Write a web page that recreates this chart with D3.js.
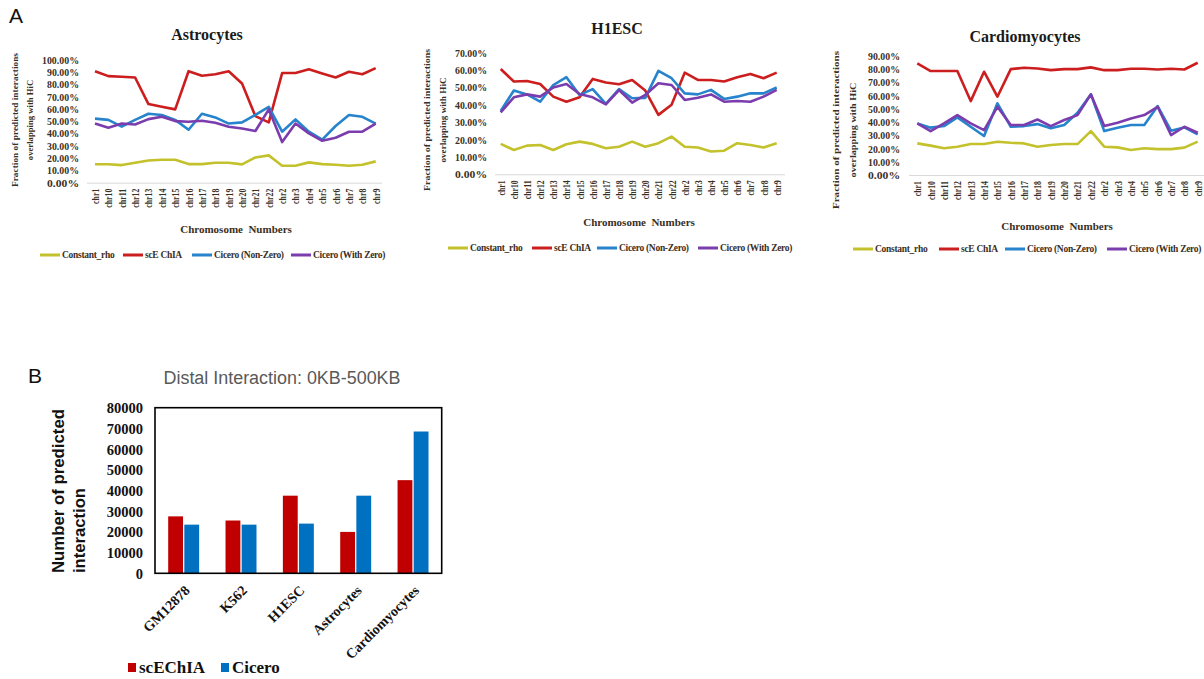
<!DOCTYPE html>
<html>
<head>
<meta charset="utf-8">
<script src="https://cdn.jsdelivr.net/npm/d3@7"></script>
<style>
  body { margin: 0; background: #ffffff; }
  svg { display: block; }
</style>
</head>
<body>
<svg id="fig" width="1204" height="679"></svg>
<script>
// ---------- data ----------
const chromosomes = ["chr1","chr10","chr11","chr12","chr13","chr14","chr15","chr16","chr17","chr18","chr19",
  "chr20","chr21","chr22","chr2","chr3","chr4","chr5","chr6","chr7","chr8","chr9"];
const lineSeriesNames = ["Constant_rho", "scE ChIA", "Cicero (Non-Zero)", "Cicero (With Zero)"];
const lineSeriesColors = ["#C3C12C", "#CC1E1E", "#2683CC", "#7B3DAE"];

// Astrocytes (% overlapping with HiC)
const astroRho      = [15.0,15.0,14.3,16.2,18.0,18.6,18.6,15.1,15.1,16.2,16.2,14.9,20.5,22.2,13.8,13.8,16.5,15.1,14.6,13.8,14.6,17.3];
const astroScEChIA  = [90.5,86.5,86.0,85.4,63.8,61.6,59.5,90.5,86.8,88.0,90.5,80.5,54.0,49.0,89.0,89.0,92.0,88.6,85.4,90.0,88.0,93.0];
const astroNonZero  = [52.0,51.0,45.5,51.0,56.0,55.0,51.0,43.0,56.0,53.0,48.0,49.0,55.0,61.6,41.4,51.4,41.4,35.0,46.0,55.0,53.5,48.0];
const astroWithZero = [48.0,44.6,48.0,47.3,51.6,53.5,50.0,49.5,50.3,48.6,45.4,44.0,42.0,59.5,33.0,48.0,40.0,34.0,36.5,41.4,41.4,48.0];

// H1ESC
const h1Rho      = [17.5,14.0,16.5,16.9,14.0,17.3,18.8,17.5,15.0,15.9,18.8,15.9,17.9,21.7,15.9,15.4,13.1,13.6,17.9,16.9,15.4,17.9];
const h1ScEChIA  = [60.6,53.4,53.7,52.0,44.7,41.8,44.3,54.9,52.8,51.8,54.3,48.2,34.2,40.0,58.5,54.3,54.3,53.4,55.9,57.8,55.3,58.5];
const h1NonZero  = [36.5,48.2,46.0,41.8,51.4,55.9,45.7,49.0,40.5,49.0,43.8,44.0,59.5,55.3,46.6,46.0,48.6,43.4,44.7,46.6,46.6,50.0];
const h1WithZero = [35.7,44.3,46.0,44.7,50.0,52.0,46.2,44.3,40.3,48.5,41.3,45.7,52.4,51.4,42.8,44.1,46.0,41.8,42.2,41.8,44.7,48.6];

// Cardiomyocytes
const cardioRho      = [23.9,22.2,20.2,21.4,23.4,23.4,25.2,24.4,23.9,21.4,22.7,23.4,23.4,33.2,21.4,20.9,18.9,20.2,19.6,19.6,20.7,25.2];
const cardioScEChIA  = [84.4,78.6,78.6,78.6,55.9,78.1,59.2,80.1,81.1,80.6,79.3,80.1,80.1,81.4,79.3,79.3,80.4,80.4,79.8,80.4,79.8,84.9];
const cardioNonZero  = [39.0,35.8,37.0,43.6,36.5,29.5,54.2,36.5,37.0,38.5,35.3,37.8,47.1,61.0,33.2,35.8,37.8,37.8,52.1,33.5,36.0,30.7];
const cardioWithZero = [39.0,33.2,39.0,45.3,39.0,34.0,51.6,37.8,37.8,42.0,37.0,41.6,45.3,61.0,37.0,39.5,42.8,45.3,51.6,30.2,36.5,32.0];

const astroTicks  = [0,10,20,30,40,50,60,70,80,90,100];
const h1Ticks     = [0,10,20,30,40,50,60,70];
const cardioTicks = [0,10,20,30,40,50,60,70,80,90];

// Panel B: distal interactions 0KB-500KB
const cellLines = ["GM12878", "K562", "H1ESC", "Astrocytes", "Cardiomyocytes"];
const barSeriesNames = ["scEChIA", "Cicero"];
const barSeriesColors = ["#C00000", "#0070C0"];
const scEChIACounts = [27500, 25500, 37500, 20000, 45000];
const ciceroCounts  = [23500, 23500, 24000, 37500, 68500];
const countTicks = [0,10000,20000,30000,40000,50000,60000,70000,80000];

// ---------- drawing ----------
const svg = d3.select("#fig");
const SERIF = "'Liberation Serif','Times New Roman',serif";
const SANS = "'Liberation Sans',Arial,sans-serif";
const INK = "#3a2f24";

function linePanel(o) {
  const g = svg.append("g");
  const x = d3.scalePoint().domain(chromosomes).range([o.xFirst, o.xLast]);
  const y = d3.scaleLinear().domain([0, o.yMax]).range([o.yBottom, o.yTop]);

  // baseline
  g.append("line")
    .attr("x1", o.axisX0).attr("x2", o.axisX1)
    .attr("y1", o.yBottom + 0.5).attr("y2", o.yBottom + 0.5)
    .attr("stroke", "#d9d9d9").attr("stroke-width", 1);

  // y tick labels
  const yAxis = d3.axisLeft(y).tickValues(o.ticks).tickSize(0).tickPadding(0)
    .tickFormat(d => d.toFixed(2) + "%");
  const ya = g.append("g").attr("transform", `translate(${o.labelRight},0)`).call(yAxis);
  ya.select(".domain").remove();
  ya.selectAll("text").attr("font-family", SERIF).attr("font-weight", "bold")
    .attr("font-size", "10.4px").attr("fill", INK).attr("dy", "0.34em")
    .attr("textLength", 37).attr("lengthAdjust", "spacingAndGlyphs")
    .each(function (d) { if (d < 100) d3.select(this).attr("textLength", 32); });

  // x tick labels, vertical
  const xAxis = d3.axisBottom(x).tickSize(0).tickPadding(0);
  const xa = g.append("g").attr("transform", `translate(0,${o.yBottom})`).call(xAxis);
  xa.select(".domain").remove();
  xa.selectAll("text")
    .attr("font-family", SERIF).attr("font-weight", "bold").attr("font-size", "10.5px")
    .attr("fill", INK)
    .attr("textLength", d => d.length * 3.8).attr("lengthAdjust", "spacingAndGlyphs")
    .attr("transform", "rotate(-90)")
    .attr("text-anchor", "end")
    .attr("x", -6).attr("y", 0).attr("dy", "0.33em");

  // series lines
  const line = d3.line().x((d, i) => x(chromosomes[i])).y(d => y(d));
  o.series.forEach((vals, k) => {
    g.append("path").datum(vals)
      .attr("d", line).attr("fill", "none")
      .attr("stroke", lineSeriesColors[k]).attr("stroke-width", 2.6)
      .attr("stroke-linejoin", "round");
  });

  // title
  g.append("text").attr("x", o.titleX).attr("y", o.titleY)
    .attr("text-anchor", "middle").attr("font-family", SERIF).attr("font-weight", "bold")
    .attr("font-size", "16px").attr("fill", "#1a1a1a").text(o.title);

  // y axis title (two lines)
  const yt = g.append("text").attr("transform", `translate(${o.yTitleX},${o.yTitleY}) rotate(-90)`)
    .attr("text-anchor", "middle").attr("font-family", SERIF).attr("font-weight", "bold")
    .attr("font-size", "9px").attr("fill", INK);
  yt.append("tspan").attr("x", 0).attr("y", 0).text("Fraction of predicted interactions")
    .attr("textLength", o.yTitleLen).attr("lengthAdjust", "spacingAndGlyphs");
  yt.append("tspan").attr("x", 0).attr("y", o.yTitleGap).text("overlapping with HiC")
    .attr("textLength", o.yTitleLen * 0.6).attr("lengthAdjust", "spacingAndGlyphs");

  // x axis title
  g.append("text").attr("x", o.xTitleX).attr("y", o.xTitleY)
    .attr("text-anchor", "middle").attr("font-family", SERIF).attr("font-weight", "bold")
    .attr("font-size", "11px").attr("fill", INK).style("white-space", "pre")
    .text("Chromosome  Numbers");

  // legend
  lineSeriesNames.forEach((name, k) => {
    const lx = o.legendX[k];
    g.append("line").attr("x1", lx).attr("x2", lx + 20)
      .attr("y1", o.legendY).attr("y2", o.legendY)
      .attr("stroke", lineSeriesColors[k]).attr("stroke-width", 3);
    g.append("text").attr("x", lx + 22).attr("y", o.legendY).attr("dy", "0.33em")
      .attr("font-family", SERIF).attr("font-weight", "bold").attr("font-size", "9.5px")
      .attr("letter-spacing", "-0.3px").attr("fill", INK).text(name);
  });
}

linePanel({
  title: "Astrocytes", titleX: 207, titleY: 40,
  series: [astroRho, astroScEChIA, astroNonZero, astroWithZero],
  yMax: 100, ticks: astroTicks,
  xFirst: 95, xLast: 375.7, axisX0: 87, axisX1: 382,
  yBottom: 182.7, yTop: 59.5, labelRight: 79,
  yTitleX: 18, yTitleY: 120, yTitleGap: 15, yTitleLen: 134,
  xTitleX: 236, xTitleY: 233,
  legendX: [40, 123, 192, 291], legendY: 255
});

linePanel({
  title: "H1ESC", titleX: 617, titleY: 34,
  series: [h1Rho, h1ScEChIA, h1NonZero, h1WithZero],
  yMax: 70, ticks: h1Ticks,
  xFirst: 500.7, xLast: 776.7, axisX0: 495, axisX1: 785,
  yBottom: 174.3, yTop: 52.7, labelRight: 487,
  yTitleX: 430, yTitleY: 120, yTitleGap: 16, yTitleLen: 142,
  xTitleX: 639, xTitleY: 226,
  legendX: [448, 532, 597, 698], legendY: 248
});

linePanel({
  title: "Cardiomyocytes", titleX: 1025, titleY: 42,
  series: [cardioRho, cardioScEChIA, cardioNonZero, cardioWithZero],
  yMax: 90, ticks: cardioTicks,
  xFirst: 917.3, xLast: 1197.7, axisX0: 909, axisX1: 1204,
  yBottom: 175, yTop: 56, labelRight: 900,
  yTitleX: 839, yTitleY: 130, yTitleGap: 17, yTitleLen: 158,
  xTitleX: 1057, xTitleY: 230,
  legendX: [853, 939, 1005, 1107], legendY: 249
});

// panel letters
svg.append("text").attr("x", 9).attr("y", 23).attr("font-family", SANS)
  .attr("font-size", "21px").attr("fill", "#111").text("A");
svg.append("text").attr("x", 28).attr("y", 383).attr("font-family", SANS)
  .attr("font-size", "21px").attr("fill", "#111").text("B");

// ---------- panel B: grouped bars ----------
(function barPanel() {
  const left = 155, right = 441.7, top = 407.7, bottom = 573.3;
  const g = svg.append("g");
  const x0 = d3.scaleBand().domain(cellLines).range([left, right]).paddingInner(0.46).paddingOuter(0.23);
  const x1 = d3.scaleBand().domain(barSeriesNames).range([0, x0.bandwidth()]).paddingInner(0.08);
  const y = d3.scaleLinear().domain([0, 80000]).range([bottom, top]);

  const rows = cellLines.map((c, i) => ({ cell: c, values: [scEChIACounts[i], ciceroCounts[i]] }));
  const grp = g.selectAll("g.grp").data(rows).join("g")
    .attr("transform", d => `translate(${x0(d.cell)},0)`);
  grp.selectAll("rect").data(d => d.values.map((v, k) => ({ v, k }))).join("rect")
    .attr("x", d => x1(barSeriesNames[d.k]))
    .attr("width", x1.bandwidth())
    .attr("y", d => y(d.v))
    .attr("height", d => bottom - y(d.v))
    .attr("fill", d => barSeriesColors[d.k]);

  // frame
  g.append("rect").attr("x", left).attr("y", top).attr("width", right - left).attr("height", bottom - top)
    .attr("fill", "none").attr("stroke", "#000").attr("stroke-width", 1.6);

  // y tick labels
  const ya = g.append("g").attr("transform", `translate(${left - 12},0)`)
    .call(d3.axisLeft(y).tickValues(countTicks).tickSize(0).tickPadding(0).tickFormat(d3.format("d")));
  ya.select(".domain").remove();
  ya.selectAll("text").attr("font-family", SERIF).attr("font-weight", "bold")
    .attr("font-size", "14.5px").attr("fill", "#111").attr("dy", "0.34em");

  // x tick labels, rotated 45 degrees
  const xa = g.append("g").attr("transform", `translate(0,${bottom})`)
    .call(d3.axisBottom(x0).tickSize(0).tickPadding(0));
  xa.select(".domain").remove();
  xa.selectAll("text")
    .attr("font-family", SERIF).attr("font-weight", "bold").attr("font-size", "14px").attr("fill", "#111")
    .attr("text-anchor", "end").attr("x", 0).attr("y", 0).attr("dy", 0)
    .attr("transform", "translate(7,18) rotate(-45)");

  // y title
  const yt = g.append("text").attr("transform", "translate(64,573) rotate(-90)")
    .attr("font-family", SANS).attr("font-weight", "bold").attr("font-size", "16px").attr("fill", "#111");
  yt.append("tspan").attr("x", 0).attr("y", 0).attr("textLength", 164).attr("lengthAdjust", "spacingAndGlyphs")
    .text("Number of predicted");
  yt.append("tspan").attr("x", 0).attr("y", 21).attr("textLength", 85).attr("lengthAdjust", "spacingAndGlyphs")
    .text("interaction");

  // title
  g.append("text").attr("x", 282).attr("y", 384).attr("text-anchor", "middle")
    .attr("font-family", SANS).attr("font-size", "18px").attr("fill", "#595959")
    .attr("textLength", 237).attr("lengthAdjust", "spacingAndGlyphs")
    .text("Distal Interaction: 0KB-500KB");

  // legend
  const legX = [128, 221];
  barSeriesNames.forEach((name, k) => {
    g.append("rect").attr("x", legX[k]).attr("y", 663).attr("width", 8).attr("height", 9)
      .attr("fill", barSeriesColors[k]);
    g.append("text").attr("x", legX[k] + 11).attr("y", 673)
      .attr("font-family", SERIF).attr("font-weight", "bold").attr("font-size", "17px")
      .attr("fill", "#111").text(name);
  });
})();
</script>
</body>
</html>
